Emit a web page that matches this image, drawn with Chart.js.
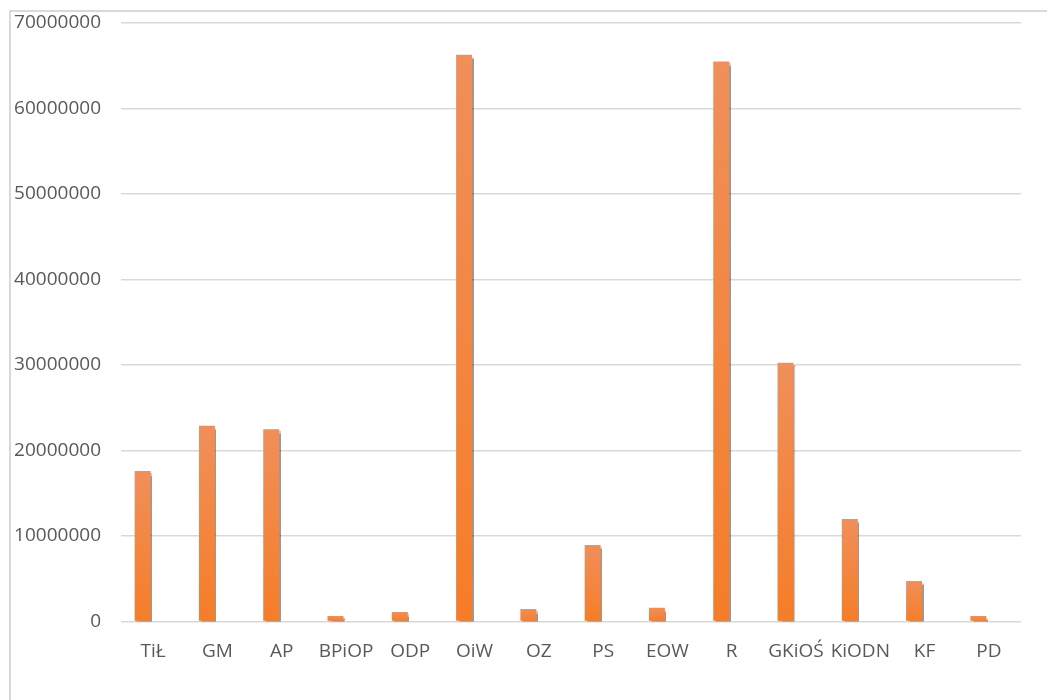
<!DOCTYPE html>
<html>
<head>
<meta charset="utf-8">
<script src="https://cdn.jsdelivr.net/npm/chart.js@4"></script>
<style>
  html, body { margin: 0; padding: 0; background: #fff; overflow: hidden; }
  #wrap { position: relative; width: 1047px; height: 700px; }
  #frame { position: absolute; left: 9px; top: 10px; width: 1100px; height: 800px;
           border-left: 2px solid #d9d9d9; border-top: 2px solid #d9d9d9; }
  canvas { position: absolute; left: 0; top: 0; }
</style>
</head>
<body>
<div id="wrap">
  <div id="frame"></div>
  <canvas id="c" width="1047" height="700"></canvas>
</div>
<script>
const categories = ["TiŁ", "GM", "AP", "BPiOP", "ODP", "OiW", "OZ", "PS", "EOW", "R", "GKiOŚ", "KiODN", "KF", "PD"];
const values = [17600000, 22900000, 22500000, 650000, 1100000, 66300000, 1450000, 8950000, 1600000, 65500000, 30250000, 12000000, 4750000, 650000];
const emptySeries = [null, null, null, null, null, null, null, null, null, null, null, null, null, null];
const yTicksMin = 0;
const yTicksMax = 70000000;
const yTicksStep = 10000000;

const shadowPlugin = {
  id: 'barShadow',
  beforeDatasetsDraw(chart) {
    const ctx = chart.ctx;
    ctx.save();
    ctx.shadowColor = 'rgba(0,0,0,0.4)';
    ctx.shadowOffsetX = 1.5;
    ctx.shadowOffsetY = 2;
    ctx.shadowBlur = 1;
  },
  afterDatasetsDraw(chart) {
    chart.ctx.restore();
  }
};

function barGradient(context) {
  const chart = context.chart;
  const area = chart.chartArea;
  if (!area) return '#f4812f';
  const v = context.raw;
  if (v == null) return '#f4812f';
  const y = chart.scales.y;
  const top = y.getPixelForValue(v);
  const base = y.getPixelForValue(0);
  if (!isFinite(top) || !isFinite(base) || Math.abs(base - top) < 1) return '#f08f58';
  const g = chart.ctx.createLinearGradient(0, top, 0, base);
  g.addColorStop(0, '#f08f5a');
  g.addColorStop(1, '#f67d28');
  return g;
}

new Chart(document.getElementById('c'), {
  type: 'bar',
  data: {
    labels: categories,
    datasets: [
      { data: values, backgroundColor: barGradient, borderWidth: 0,
        categoryPercentage: 0.653, barPercentage: 0.76 },
      { data: emptySeries, backgroundColor: '#a5a5a5', borderWidth: 0,
        categoryPercentage: 0.653, barPercentage: 0.76 }
    ]
  },
  options: {
    responsive: false,
    animation: false,
    devicePixelRatio: 1,
    layout: { padding: { left: 0, right: 26, top: 23, bottom: 0 } },
    plugins: { legend: { display: false }, tooltip: { enabled: false } },
    scales: {
      x: {
        grid: { display: false },
        border: { display: false },
        ticks: { color: '#595959', font: { family: 'Open Sans', size: 19 }, padding: 11, maxRotation: 0, autoSkip: false },
        afterFit(scale) { scale.height = 78.5; }
      },
      y: {
        min: yTicksMin, max: yTicksMax,
        grid: { color: '#d9d9d9', lineWidth: 1.5, drawTicks: false },
        border: { display: false },
        ticks: { stepSize: yTicksStep, color: '#595959', font: { family: 'Open Sans', size: 19 }, padding: 20,
                 callback: v => String(v) },
        afterFit(scale) { scale.width = 121; scale.paddingTop = 0; scale.paddingBottom = 0; }
      }
    }
  },
  plugins: [shadowPlugin]
});
</script>
</body>
</html>
